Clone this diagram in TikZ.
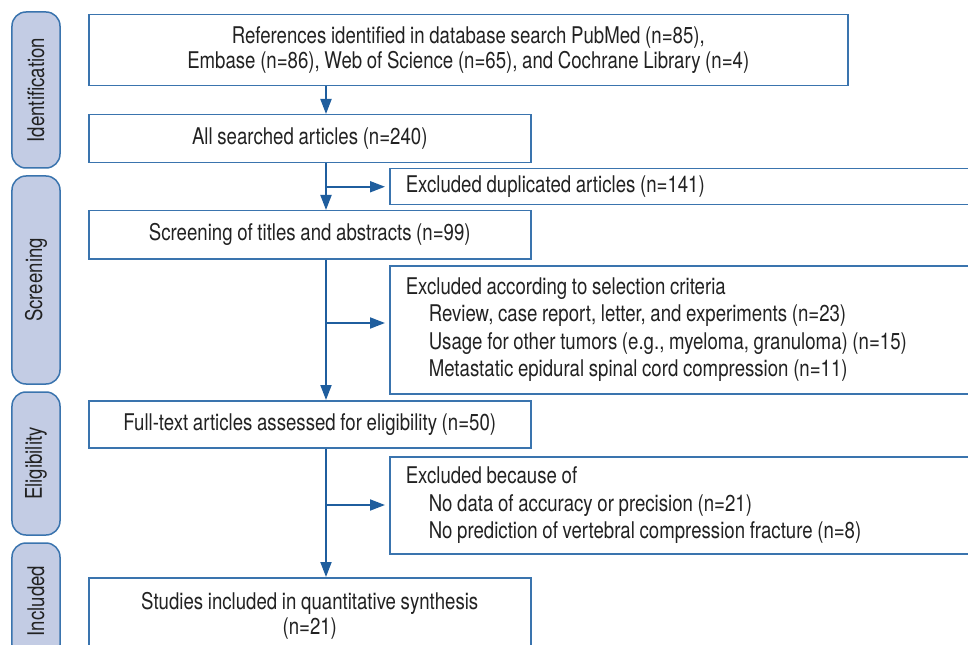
\documentclass[tikz,border=0pt]{standalone}
\usepackage{fontspec}
\setmainfont[FakeStretch=0.81,WordSpace=0.9]{TeX Gyre Heros}
\usetikzlibrary{arrows.meta,calc}
\definecolor{boxblue}{HTML}{3A74AE}
\definecolor{arrblue}{HTML}{1F5E9E}
\definecolor{sidefill}{HTML}{C3CCE4}
\definecolor{txt}{HTML}{222222}
\newcommand\natsp{\spaceskip=0pt\xspaceskip=0pt\relax}
\begin{document}
\begin{tikzpicture}[x=1bp,y=-1bp,
  every node/.style={text=txt,font=\fontsize{23bp}{25.5bp}\selectfont},
  box/.style={draw=boxblue,line width=1.5bp,fill=white,anchor=north west,inner sep=0pt},
  exbox/.style={box,align=left,inner xsep=16bp,font=\fontsize{23bp}{27.5bp}\selectfont},
  side/.style={draw=boxblue,line width=1.5bp,fill=sidefill,rounded corners=14bp,rotate=90,minimum height=48bp,inner sep=0pt},
  arr/.style={draw=arrblue,line width=1.8bp,-{Triangle[width=11bp,length=15bp]}}]
\clip (0,0) rectangle (968,645);
\fill[white] (0,0) rectangle (968,645);
% side labels
\node[side,minimum width=156bp] (s1) at (36,90) {Identification};
\node[side,minimum width=208bp] (s2) at (36,280) {Screening};
\node[side,minimum width=143bp] (s3) at (36,463.5) {Eligibility};
\node[side,minimum width=116bp] (s4) at (36,601) {Included};
% main boxes
\node[box,minimum width=759bp,minimum height=71bp,align=center] (b1) at (88,14)
  {References identified in database search PubMed (n=85),\\Embase (n=86), Web of Science (n=65), and Cochrane Library (n=4)};
\node[box,minimum width=442bp,minimum height=48bp] (b2) at (88,114) {All searched articles (n=240)};
\node[box,minimum width=442bp,minimum height=48bp] (b3) at (88,210) {Screening of titles and abstracts (n=99)};
\node[box,minimum width=442bp,minimum height=47bp] (b4) at (88,400) {Full-text articles assessed for eligibility (n=50)};
\node[box,minimum width=442bp,minimum height=76bp,align=center] (b5) at (88,577)
  {Studies included in quantitative synthesis\\(n=21)};
% exclusion boxes
\node[exbox,minimum width=590bp,minimum height=36bp,text width=558bp] (e1) at (389,168)
  {\natsp Excluded duplicated articles (n=141)};
\node[exbox,minimum width=590bp,minimum height=128bp,text width=558bp] (e2) at (389,265)
  {\natsp Excluded according to selection criteria\\
   \hspace*{23bp}Review, case report, letter, and experiments (n=23)\\
   \hspace*{23bp}Usage for other tumors (e.g., myeloma, granuloma) (n=15)\\
   \hspace*{23bp}Metastatic epidural spinal cord compression (n=11)};
\node[exbox,minimum width=590bp,minimum height=97bp,text width=558bp] (e3) at (389,456)
  {\natsp Excluded because of\\
   \hspace*{23bp}No data of accuracy or precision (n=21)\\
   \hspace*{23bp}No prediction of vertebral compression fracture (n=8)};
% connectors
\coordinate (ax) at (326,0);
\draw[arr] (b1.south -| ax) -- (b2.north -| ax);
\draw[arr] (b2.south -| ax) -- (b3.north -| ax);
\draw[arr] (b3.south -| ax) -- (b4.north -| ax);
\draw[arr] (b4.south -| ax) -- (b5.north -| ax);
\draw[arr,shorten >=4bp] (ax |- e1.west) -- (e1.west);
\draw[arr,shorten >=4bp] ($(ax |- e2.north)+(0,58)$) coordinate (k2) -- (k2 -| e2.west);
\draw[arr,shorten >=4bp] ($(ax |- e3.north)+(0,49)$) coordinate (k3) -- (k3 -| e3.west);
\end{tikzpicture}
\end{document}
